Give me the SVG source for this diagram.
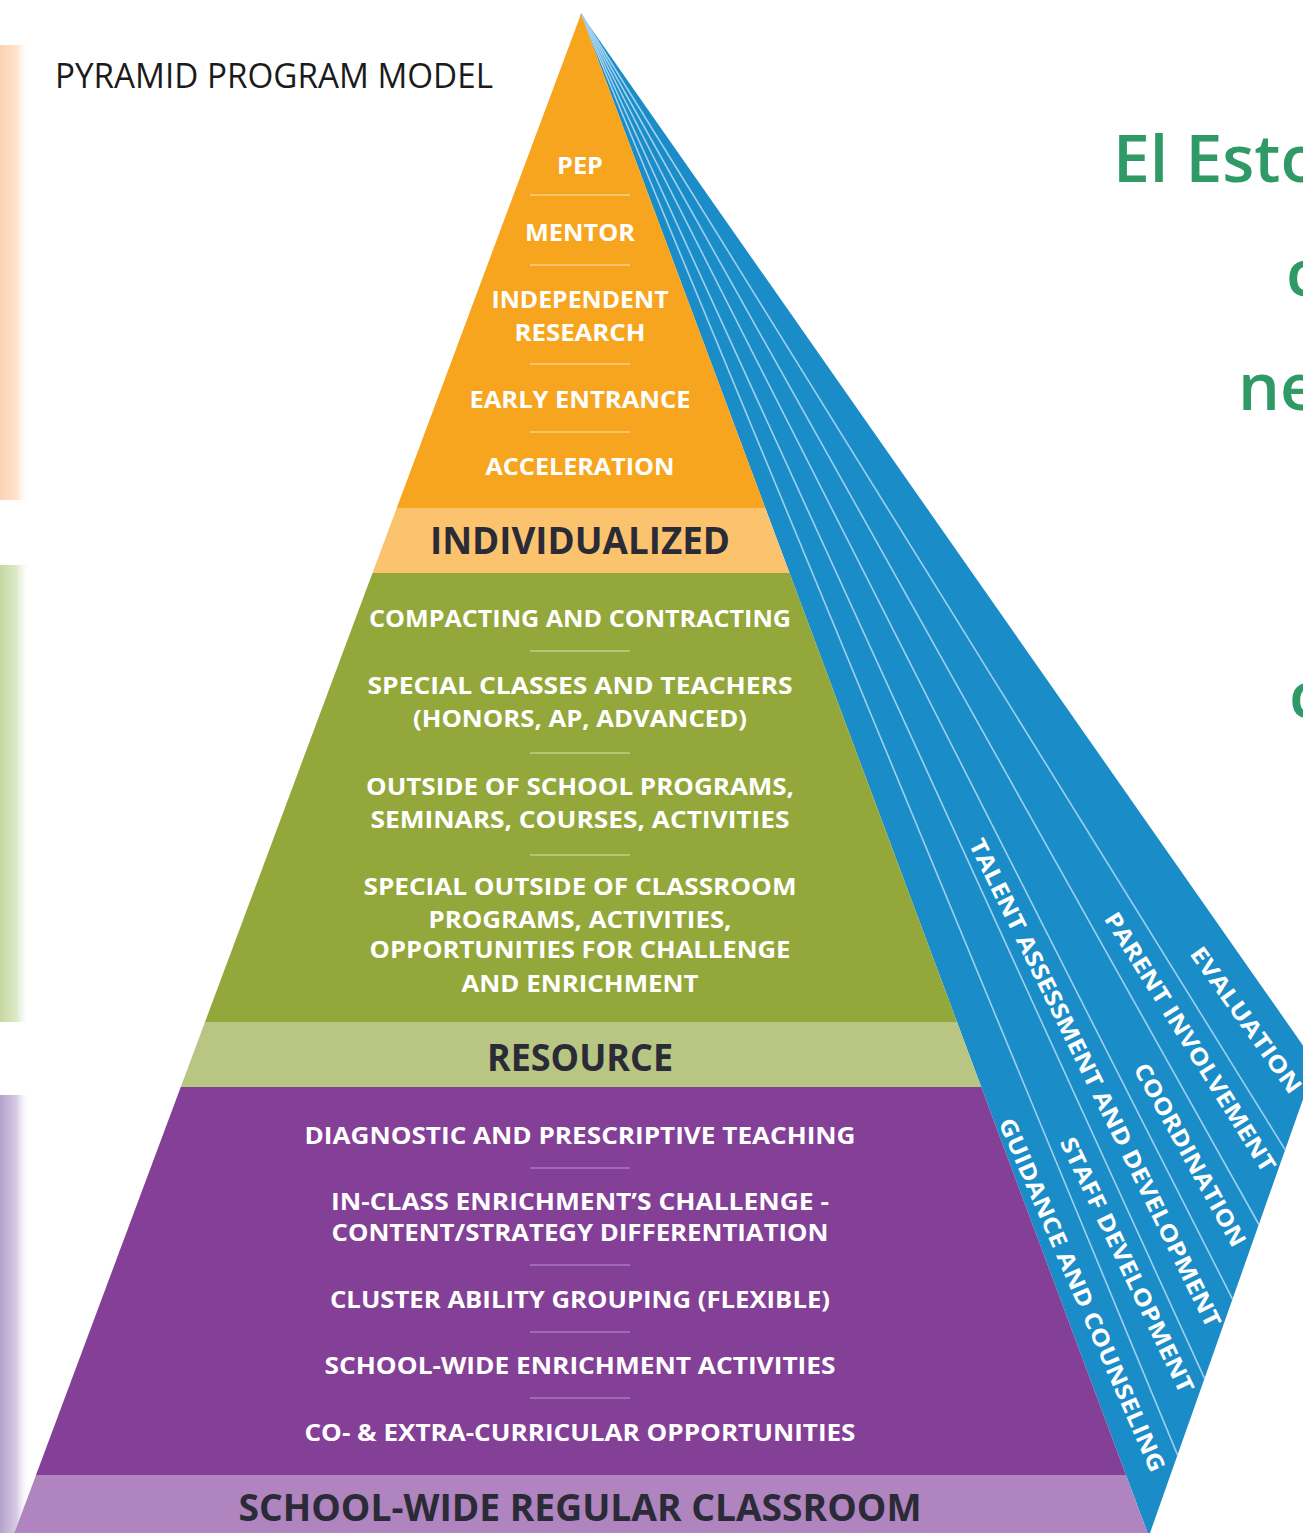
<svg xmlns="http://www.w3.org/2000/svg" width="1303" height="1533" viewBox="0 0 1303 1533">
<style>
.item{font-family:"Open Sans","Liberation Sans",sans-serif;font-weight:700;font-size:24px;fill:#ffffff;text-anchor:middle}
.hdr{font-family:"Open Sans","Liberation Sans",sans-serif;font-weight:700;font-size:38px;fill:#2a2b36;text-anchor:middle}
.side{font-family:"Open Sans","Liberation Sans",sans-serif;font-weight:700;font-size:23px;fill:#ffffff;text-anchor:middle}
.title{font-family:"Open Sans","Liberation Sans",sans-serif;font-weight:400;font-size:34px;fill:#1b1b1b}
.green{font-family:"Open Sans","Noto Sans",sans-serif;font-weight:600;font-size:66px;fill:#2f9a66}
.divO{stroke:#fbc46e;stroke-width:2}
.divG{stroke:#b7c676;stroke-width:2}
.divP{stroke:#a06ab2;stroke-width:2}
.ray{stroke:#9fd0ee;stroke-width:1.6;fill:none}
</style>
<defs>
<clipPath id="pyr"><polygon points="581,14 14.4,1533 1147.6,1533"/></clipPath>
<linearGradient id="gPeach" x1="0" x2="1" y1="0" y2="0"><stop offset="0" stop-color="#fcd2b2"/><stop offset="0.55" stop-color="#fde3cf"/><stop offset="1" stop-color="#ffffff" stop-opacity="0"/></linearGradient>
<linearGradient id="gGreen" x1="0" x2="1" y1="0" y2="0"><stop offset="0" stop-color="#c5d8a1"/><stop offset="0.55" stop-color="#dde9c8"/><stop offset="1" stop-color="#ffffff" stop-opacity="0"/></linearGradient>
<linearGradient id="gPurple" x1="0" x2="1" y1="0" y2="0"><stop offset="0" stop-color="#b5a2cc"/><stop offset="0.55" stop-color="#d6cbe3"/><stop offset="1" stop-color="#ffffff" stop-opacity="0"/></linearGradient>
</defs>
<rect width="1303" height="1533" fill="#ffffff"/>

<g id="left-strips">
<rect x="0" y="45" width="30" height="455" fill="url(#gPeach)"/>
<rect x="0" y="565" width="30" height="457" fill="url(#gGreen)"/>
<rect x="0" y="1095" width="30" height="438" fill="url(#gPurple)"/>
</g>

<g id="title"><text class="title" x="55" y="88" textLength="438" lengthAdjust="spacingAndGlyphs">PYRAMID PROGRAM MODEL</text></g>

<g id="side-face">
<polygon points="581,14 1315.6,1063.5 1150,1533 1147.6,1533" fill="#1a8cc7"/>
</g>

<g id="connectors">
<line class="ray" x1="581" y1="14" x2="1177.5" y2="1454.9"/>
<line class="ray" x1="581" y1="14" x2="1204.5" y2="1378.4"/>
<line class="ray" x1="581" y1="14" x2="1232.5" y2="1299.1"/>
<line class="ray" x1="581" y1="14" x2="1258.9" y2="1224.5"/>
<line class="ray" x1="581" y1="14" x2="1285.2" y2="1149.8"/>
</g>

<g id="side-labels">
<text class="side" transform="translate(1082,1295) rotate(66.5)" dy="8" textLength="383" lengthAdjust="spacingAndGlyphs">GUIDANCE AND COUNSELING</text>
<text class="side" transform="translate(1127,1265) rotate(64.5)" dy="8" textLength="280" lengthAdjust="spacingAndGlyphs">STAFF DEVELOPMENT</text>
<text class="side" transform="translate(1095,1083) rotate(63.8)" dy="8" textLength="541" lengthAdjust="spacingAndGlyphs">TALENT ASSESSMENT AND DEVELOPMENT</text>
<text class="side" transform="translate(1190,1155) rotate(61)" dy="8" textLength="206" lengthAdjust="spacingAndGlyphs">COORDINATION</text>
<text class="side" transform="translate(1190,1042) rotate(58)" dy="8" textLength="301" lengthAdjust="spacingAndGlyphs">PARENT INVOLVEMENT</text>
<text class="side" transform="translate(1246,1020) rotate(54.5)" dy="8" textLength="174" lengthAdjust="spacingAndGlyphs">EVALUATION</text>
</g>

<g clip-path="url(#pyr)">
<g id="tier-individualized-items">
<rect x="0" y="0" width="1303" height="508" fill="#f7a51f"/>
<text class="item" x="580" y="174" textLength="46" lengthAdjust="spacingAndGlyphs">PEP</text>
<line class="divO" x1="530" y1="195" x2="630" y2="195"/>
<text class="item" x="580" y="241" textLength="110" lengthAdjust="spacingAndGlyphs">MENTOR</text>
<line class="divO" x1="530" y1="265" x2="630" y2="265"/>
<text class="item" x="580" y="308" textLength="177" lengthAdjust="spacingAndGlyphs">INDEPENDENT</text>
<text class="item" x="580" y="341" textLength="131" lengthAdjust="spacingAndGlyphs">RESEARCH</text>
<line class="divO" x1="530" y1="364" x2="630" y2="364"/>
<text class="item" x="580" y="408" textLength="221" lengthAdjust="spacingAndGlyphs">EARLY ENTRANCE</text>
<line class="divO" x1="530" y1="432" x2="630" y2="432"/>
<text class="item" x="580" y="475" textLength="189" lengthAdjust="spacingAndGlyphs">ACCELERATION</text>
</g>
<g id="tier-individualized">
<rect x="0" y="508" width="1303" height="65" fill="#fcc36f"/>
<text class="hdr" x="580" y="554" textLength="300" lengthAdjust="spacingAndGlyphs">INDIVIDUALIZED</text>
</g>
<g id="tier-resource-items">
<rect x="0" y="573" width="1303" height="449" fill="#94a73a"/>
<text class="item" x="580" y="627" textLength="422" lengthAdjust="spacingAndGlyphs">COMPACTING AND CONTRACTING</text>
<line class="divG" x1="530" y1="651" x2="630" y2="651"/>
<text class="item" x="580" y="694" textLength="425" lengthAdjust="spacingAndGlyphs">SPECIAL CLASSES AND TEACHERS</text>
<text class="item" x="580" y="727" textLength="334" lengthAdjust="spacingAndGlyphs">(HONORS, AP, ADVANCED)</text>
<line class="divG" x1="530" y1="753" x2="630" y2="753"/>
<text class="item" x="580" y="795" textLength="428" lengthAdjust="spacingAndGlyphs">OUTSIDE OF SCHOOL PROGRAMS,</text>
<text class="item" x="580" y="828" textLength="419" lengthAdjust="spacingAndGlyphs">SEMINARS, COURSES, ACTIVITIES</text>
<line class="divG" x1="530" y1="855" x2="630" y2="855"/>
<text class="item" x="580" y="895" textLength="433" lengthAdjust="spacingAndGlyphs">SPECIAL OUTSIDE OF CLASSROOM</text>
<text class="item" x="580" y="928" textLength="303" lengthAdjust="spacingAndGlyphs">PROGRAMS, ACTIVITIES,</text>
<text class="item" x="580" y="958" textLength="421" lengthAdjust="spacingAndGlyphs">OPPORTUNITIES FOR CHALLENGE</text>
<text class="item" x="580" y="992" textLength="237" lengthAdjust="spacingAndGlyphs">AND ENRICHMENT</text>
</g>
<g id="tier-resource">
<rect x="0" y="1022" width="1303" height="65" fill="#b9c583"/>
<text class="hdr" x="580" y="1071" textLength="186" lengthAdjust="spacingAndGlyphs">RESOURCE</text>
</g>
<g id="tier-regular-items">
<rect x="0" y="1087" width="1303" height="388" fill="#843f97"/>
<text class="item" x="580" y="1144" textLength="551" lengthAdjust="spacingAndGlyphs">DIAGNOSTIC AND PRESCRIPTIVE TEACHING</text>
<line class="divP" x1="530" y1="1168" x2="630" y2="1168"/>
<text class="item" x="580" y="1210" textLength="498" lengthAdjust="spacingAndGlyphs">IN-CLASS ENRICHMENT’S CHALLENGE -</text>
<text class="item" x="580" y="1241" textLength="497" lengthAdjust="spacingAndGlyphs">CONTENT/STRATEGY DIFFERENTIATION</text>
<line class="divP" x1="530" y1="1265" x2="630" y2="1265"/>
<text class="item" x="580" y="1308" textLength="500" lengthAdjust="spacingAndGlyphs">CLUSTER ABILITY GROUPING (FLEXIBLE)</text>
<line class="divP" x1="530" y1="1332" x2="630" y2="1332"/>
<text class="item" x="580" y="1374" textLength="511" lengthAdjust="spacingAndGlyphs">SCHOOL-WIDE ENRICHMENT ACTIVITIES</text>
<line class="divP" x1="530" y1="1398" x2="630" y2="1398"/>
<text class="item" x="580" y="1441" textLength="551" lengthAdjust="spacingAndGlyphs">CO- &amp; EXTRA-CURRICULAR OPPORTUNITIES</text>
</g>
<g id="tier-regular">
<rect x="0" y="1475" width="1303" height="58" fill="#b084bf"/>
<text class="hdr" x="580" y="1521" textLength="683" lengthAdjust="spacingAndGlyphs">SCHOOL-WIDE REGULAR CLASSROOM</text>
</g>
</g>

<g id="side-text">
<text class="green" x="1113" y="182">El Esto</text>
<text class="green" x="1286" y="296">c</text>
<text class="green" x="1238" y="410">ne</text>
<text class="green" x="1289" y="718">c</text>
</g>
</svg>
